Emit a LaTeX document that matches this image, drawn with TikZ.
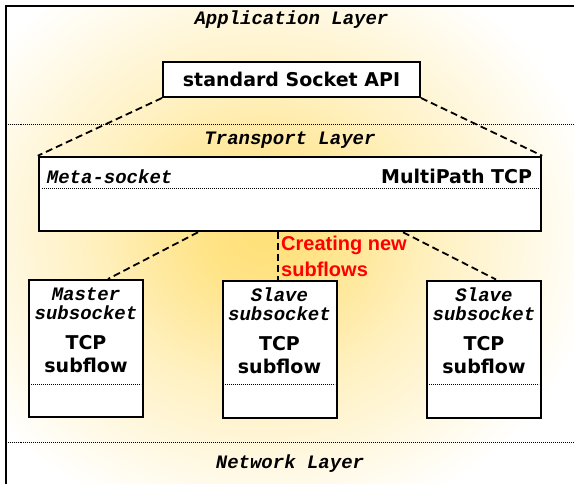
\documentclass[tikz,border=0pt]{standalone}
\usepackage{fontspec}
\setsansfont{DejaVu Sans}
\setmonofont{Liberation Mono}
\newfontfamily\notefont{Liberation Sans}

\definecolor{glowgold}{RGB}{255,224,120}
\definecolor{notered}{RGB}{255,0,0}

% soft yellow highlight, fades out to white at the rim
\pgfdeclareradialshading{glowshade}{\pgfpoint{0bp}{0bp}}{%
  color(0bp)=(glowgold); color(4bp)=(glowgold!90!white);
  color(13bp)=(glowgold!45!white); color(25bp)=(white); color(50bp)=(white)}

\tikzset{
  layer/.style={font=\fontsize{19}{22}\selectfont\ttfamily\bfseries\itshape},
  role/.style={font=\fontsize{19}{22}\selectfont\ttfamily\bfseries\itshape, inner sep=0pt},
  boxtext/.style={font=\fontsize{19}{23}\selectfont\sffamily\bfseries, align=center, inner sep=0pt},
  sockbox/.style={draw, line width=2pt, fill=white, inner sep=0pt},
  subbox/.style={sockbox, minimum width=114pt, minimum height=137pt},
  link/.style={line width=1.8pt, dash pattern=on 7pt off 4pt},
  sep/.style={line width=0.8pt, dash pattern=on 0.8pt off 1.2pt},
}

\begin{document}
\begin{tikzpicture}[x=1pt,y=-1pt]
  \useasboundingbox (0,0) rectangle (574,483);

  \begin{scope}
    \clip (5.5,5.5) rectangle (574,483);
    \shade[shading=glowshade] (262,235) ellipse [x radius=340pt, y radius=300pt];
  \end{scope}

  % outer frame and layer borders
  \draw[line width=2pt] (5.5,600) |- (600,5.5);
  \draw[sep] (5.5,124) -- (574,124);
  \draw[sep] (5.5,442) -- (574,442);

  \node[layer] (app) at (291.5,20) {Application Layer};
  \node[layer] (transport) at (290,140) {Transport Layer};
  \node[layer] (network) at (290,464) {Network Layer};

  % socket API
  \node[sockbox, boxtext, minimum width=257pt, minimum height=35pt] (api) at (291.5,79.5) {standard Socket API};

  % meta socket
  \node[sockbox, line width=2.5pt, minimum width=502pt, minimum height=74pt] (meta) at (290,194) {};
  \draw[sep] ([xshift=4pt,yshift=-33pt]meta.north west) -- ([xshift=-4pt,yshift=-33pt]meta.north east);
  \node[role, anchor=west] (metaname) at ([xshift=9pt,yshift=-21pt]meta.north west) {Meta-socket};
  \node[boxtext, anchor=east] (mptcp) at ([xshift=-10pt,yshift=-21pt]meta.north east) {MultiPath TCP};

  % subsockets
  \node[subbox] (master) at (86,348.5) {};
  \node[subbox] (slaveA) at (279.5,349) {};
  \node[subbox] (slaveB) at (484,349) {};
  \foreach \s/\r in {master/Master, slaveA/Slave, slaveB/Slave} {
    \node[role] (\s-role) at ([yshift=-15pt]\s.north) {\r};
    \node[role] (\s-sock) at ([yshift=-34pt]\s.north) {subsocket};
    \node[boxtext] (\s-flow) at ([yshift=-75.5pt]\s.north) {TCP\\subflow};
    \draw[sep] ([xshift=3pt,yshift=-105pt]\s.north west) -- ([xshift=-3pt,yshift=-105pt]\s.north east);
  }

  % connections
  \draw[link] (api.south west) -- (meta.north west);
  \draw[link] (api.south east) -- (meta.north east);
  \draw[link] ([xshift=-92pt]meta.south) -- ([xshift=22pt]master.north);
  \draw[link] ([xshift=-12pt]meta.south) -- ([xshift=-1.5pt]slaveA.north);
  \draw[link] ([xshift=113pt]meta.south) -- ([xshift=12pt]slaveB.north);

  \node[anchor=west, text=notered, font=\fontsize{20}{26}\selectfont\notefont\bfseries, align=left, inner sep=0pt] (newflows) at (281,256) {Creating new\\subflows};
\end{tikzpicture}
\end{document}
